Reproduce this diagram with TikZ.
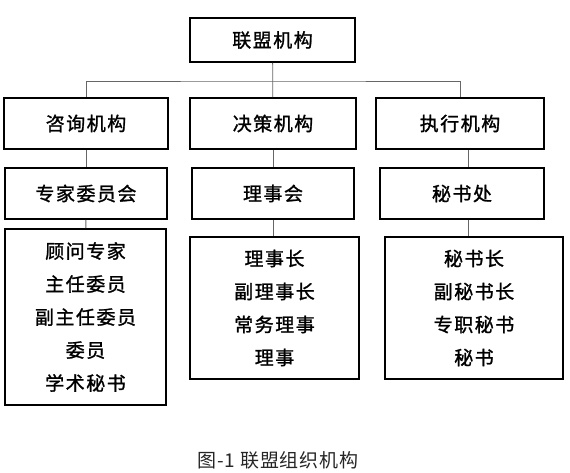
\documentclass[tikz,border=0pt]{standalone}
\usepackage{fontspec}
\newfontfamily\cjk[LetterSpace=8,FakeBold=1.3]{Noto Sans CJK SC}
\newfontfamily\cjkcap[LetterSpace=4]{Noto Sans CJK SC}
\begin{document}
\begin{tikzpicture}[x=1pt,y=-1pt,
  unit/.style={draw=black,line width=1.6pt,inner sep=0pt,align=center,
    font=\cjk\fontsize{19}{33}\selectfont},
  link/.style={draw=kLine,line width=0.8pt}]
  \definecolor{kLine}{rgb}{0.4,0.4,0.4}
  \useasboundingbox (0,0) rectangle (570,472);

  \node[unit,minimum width=165,minimum height=44] (league) at (272.5,40) {联盟机构};

  \node[unit,minimum width=164,minimum height=51] (ask)    at (86,123.5)  {咨询机构};
  \node[unit,minimum width=166,minimum height=51] (decide) at (273,123.5) {决策机构};
  \node[unit,minimum width=168,minimum height=51] (exec)   at (460,123.5) {执行机构};

  \node[unit,minimum width=162,minimum height=51] (expert)  at (86,193.5)  {专家委员会};
  \node[unit,minimum width=162,minimum height=51] (council) at (273,193.5) {理事会};
  \node[unit,minimum width=164,minimum height=51] (office)  at (462,193.5) {秘书处};

  \node[unit,minimum width=161,minimum height=176] (members) at (85.5,317) {顾问专家\\主任委员\\副主任委员\\委员\\学术秘书};
  \node[unit,minimum width=169,minimum height=142] (board)   at (274.5,308) {理事长\\副理事长\\常务理事\\理事};
  \node[unit,minimum width=178,minimum height=142] (staff)   at (474,308) {秘书长\\副秘书长\\专职秘书\\秘书};

  \coordinate (bus) at (273,81);
  \draw[link] (league) -- (decide);
  \draw[link] (ask.north) |- (bus) -| (exec.north);

  \draw[link] (ask) -- (expert);
  \draw[link] (expert) -- (members);
  \draw[link] (decide) -- (council);
  \draw[link] (council.south) -- (council.south |- board.north);
  \draw[link] (exec.south -| 468,0) -- (office.north -| 468,0);
  \draw[link] (office.south -| 468,0) -- (staff.north -| 468,0);

  \node[font=\cjkcap\fontsize{19}{20}\selectfont,text=black!85] (caption) at (278,460) {图-1 联盟组织机构};
\end{tikzpicture}
\end{document}
